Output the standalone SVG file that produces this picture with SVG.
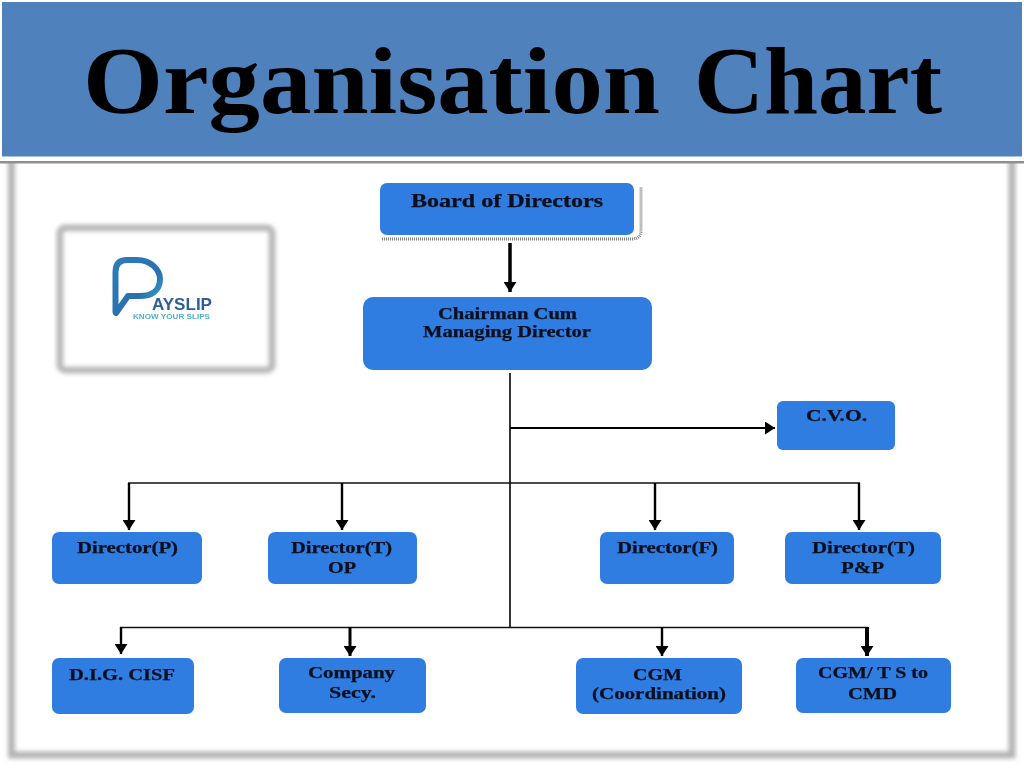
<svg xmlns="http://www.w3.org/2000/svg" width="1024" height="768" viewBox="0 0 1024 768">
<style>
.n{fill:#2f7de1}
.t{font-family:"Liberation Serif","Times New Roman",serif;font-weight:bold;font-size:16.5px;fill:#0a0f1e;filter:url(#s);stroke:#0a0f1e;stroke-width:.25}
.c{fill:none;stroke:#111;stroke-width:1.7}
.a{fill:none;stroke:#000;stroke-width:2.4;marker-end:url(#ah)}
</style>
<defs>
<marker id="ah" markerUnits="userSpaceOnUse" markerWidth="12" markerHeight="13" refX="10" refY="6.500" orient="auto"><path d="M0 0L10 6.500L0 13Z" fill="#000"/></marker>
<filter id="s" x="-5%" y="-20%" width="110%" height="140%"><feGaussianBlur stdDeviation="0.35"/></filter>
<filter id="b3" x="-5%" y="-5%" width="110%" height="110%"><feGaussianBlur stdDeviation="2"/></filter>
<filter id="b1" x="-5%" y="-100%" width="110%" height="300%"><feGaussianBlur stdDeviation="0.7"/></filter>
<linearGradient id="pg" x1="0" y1="0" x2="1" y2="1"><stop offset="0" stop-color="#2a7db8"/><stop offset="0.6" stop-color="#2c6fb0"/><stop offset="1" stop-color="#35b8cc"/></linearGradient>
</defs>
<rect width="1024" height="768" fill="#fff"/>
<g id="frame"><path d="M11.500 160V755H1012V160" fill="none" stroke="#b4b4b4" stroke-width="7" filter="url(#b3)"/></g>
<g id="title">
<rect x="0" y="157" width="1024" height="4" fill="#fff"/>
<rect x="0" y="161" width="1024" height="2.500" fill="#8f8f8f" filter="url(#b1)"/>
<rect x="2" y="2" width="1020" height="154.500" fill="#4f81bd"/>
<text y="113" font-family="'Liberation Serif','Times New Roman',serif" font-weight="bold" font-size="96" fill="#000"><tspan x="83" textLength="577" lengthAdjust="spacingAndGlyphs">Organisation</tspan> <tspan x="694" textLength="248" lengthAdjust="spacingAndGlyphs">Chart</tspan></text>
</g>
<g id="logo">
<rect x="60" y="228" width="212" height="142" rx="5" fill="#fff" stroke="#b8b8b8" stroke-width="7" filter="url(#b3)"/>
<path d="M115.500 312V272Q115.500 260 127 260H137C151 260 160 270 160 279C160 291 151 296 140 296H128L116 313" fill="none" stroke="url(#pg)" stroke-width="6" stroke-linejoin="round" stroke-linecap="round"/>
<text x="152" y="310" font-family="'Liberation Sans',Arial,sans-serif" font-weight="bold" font-size="16.500" fill="#2f5f94" textLength="60" lengthAdjust="spacingAndGlyphs" filter="url(#s)">AYSLIP</text>
<text x="133" y="318.500" font-family="'Liberation Sans',Arial,sans-serif" font-weight="bold" font-size="6.500" fill="#55afc6" textLength="77" lengthAdjust="spacingAndGlyphs" filter="url(#s)">KNOW YOUR SLIPS</text>
</g>
<g id="connectors">
<path class="a" d="M510 243V292" style="stroke-width:3.500"/>
<path class="c" d="M510 373V628"/>
<path class="a" d="M510 428H775" style="stroke-width:2"/>
<path class="c" d="M128 483H860"/>
<path class="a" d="M129 483V530"/>
<path class="a" d="M342 483V530"/>
<path class="a" d="M655 483V530"/>
<path class="a" d="M859 483V530"/>
<path class="c" d="M120 627.500H868"/>
<path class="a" d="M121 627V654"/>
<path class="a" d="M350 627V656" style="stroke-width:3"/>
<path class="a" d="M662 627V656"/>
<path class="a" d="M867 627V656" style="stroke-width:4"/>
</g>
<g id="board">
<path d="M382 239H632Q641 239 641 230V187" fill="none" stroke="#808080" stroke-width="3" stroke-dasharray="1 1"/>
<rect x="380" y="183" width="254" height="52" rx="7" class="n"/>
<text class="t" x="411" y="207" textLength="192" lengthAdjust="spacingAndGlyphs" style="font-size:18.500px">Board of Directors</text></g>
<g id="cmd"><rect x="363" y="297" width="289" height="73" rx="10" class="n"/>
<text class="t" x="438" y="319" textLength="139" lengthAdjust="spacingAndGlyphs">Chairman Cum</text><text class="t" x="423" y="337" textLength="168" lengthAdjust="spacingAndGlyphs">Managing Director</text></g>
<g id="cvo"><rect x="777" y="401" width="118" height="49" rx="6" class="n"/><text class="t" x="806" y="421" textLength="61" lengthAdjust="spacingAndGlyphs">C.V.O.</text></g>
<g id="dp"><rect x="52" y="532" width="150" height="52" rx="7" class="n"/><text class="t" x="77" y="553" textLength="101" lengthAdjust="spacingAndGlyphs">Director(P)</text></g>
<g id="dtop"><rect x="268" y="532" width="149" height="52" rx="7" class="n"/><text class="t" x="291" y="553" textLength="101" lengthAdjust="spacingAndGlyphs">Director(T)</text><text class="t" x="328" y="573" textLength="28" lengthAdjust="spacingAndGlyphs">OP</text></g>
<g id="df"><rect x="600" y="532" width="134" height="52" rx="7" class="n"/><text class="t" x="617" y="553" textLength="101" lengthAdjust="spacingAndGlyphs">Director(F)</text></g>
<g id="dtpp"><rect x="785" y="532" width="156" height="52" rx="7" class="n"/><text class="t" x="812" y="553" textLength="103" lengthAdjust="spacingAndGlyphs">Director(T)</text><text class="t" x="841" y="573" textLength="43" lengthAdjust="spacingAndGlyphs">P&amp;P</text></g>
<g id="dig"><rect x="52" y="658" width="142" height="56" rx="7" class="n"/><text class="t" x="69" y="680" textLength="106" lengthAdjust="spacingAndGlyphs">D.I.G. CISF</text></g>
<g id="secy"><rect x="279" y="658" width="147" height="55" rx="7" class="n"/><text class="t" x="308" y="678" textLength="87" lengthAdjust="spacingAndGlyphs">Company</text><text class="t" x="329" y="698" textLength="47" lengthAdjust="spacingAndGlyphs">Secy.</text></g>
<g id="cgmc"><rect x="576" y="658" width="166" height="56" rx="7" class="n"/><text class="t" x="633" y="680" textLength="49" lengthAdjust="spacingAndGlyphs">CGM</text><text class="t" x="592" y="699" textLength="134" lengthAdjust="spacingAndGlyphs">(Coordination)</text></g>
<g id="cgmts"><rect x="796" y="658" width="155" height="55" rx="7" class="n"/><text class="t" x="818" y="678" textLength="110" lengthAdjust="spacingAndGlyphs">CGM/ T S to</text><text class="t" x="848" y="699" textLength="49" lengthAdjust="spacingAndGlyphs">CMD</text></g>
</svg>
